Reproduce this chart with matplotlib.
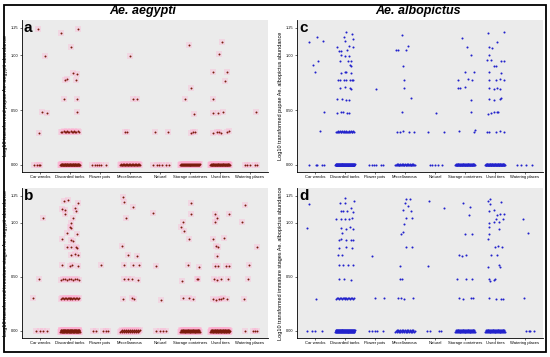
import numpy as np
import matplotlib
matplotlib.use('Agg')
import matplotlib.pyplot as plt
from matplotlib.patches import Rectangle

plt.rcParams['font.family'] = ['Liberation Sans', 'DejaVu Sans']

categories = ['Car wrecks', 'Discarded tanks', 'Flower pots', 'Miscellaneous',
              'Natural', 'Storage containers', 'Used tires', 'Watering places']
y_ticks = [0.0, 0.5, 1.0, 1.25]
y_ticklabels = ['0.00', '0.50', '1.00', '1.25']
dense_levels = [0.0, 0.301, 0.477]

# ---- a: pupae Ae. aegypti (sparse points, x = category position incl. jitter)
a_x = [0.92, 1.17, 1.06, 1.22, 0.97, 0.80, 0.90, 0.97, 1.01,
       1.70, 2.27, 2.04, 2.09, 2.23, 1.83, 1.91, 2.21, 1.79, 2.24, 2.24,
       2.72, 2.82, 2.90, 2.97, 3.03, 3.20,
       4.00, 4.11, 4.24, 3.83, 3.91,
       4.84, 5.28, 4.76, 4.89, 4.98, 5.07, 5.19, 5.30,
       5.96, 6.03, 5.82, 6.14, 6.03, 6.11, 6.16,
       7.07, 6.96, 6.76, 7.23, 7.16, 6.78, 6.78, 6.94, 7.10, 6.78, 6.91, 6.98,
       7.02, 7.23, 7.29,
       8.19, 7.83, 7.91, 8.00, 8.17, 8.24]
a_y = [1.244, 0.99, 0.479, 0.47, 0.293, 0, 0, 0, 0,
       1.204, 1.24, 1.08, 0.838, 0.832, 0.774, 0.78, 0.771, 0.604, 0.604, 0.479,
       0, 0, 0, 0, 0, 0,
       0.997, 0.60, 0.598, 0.296, 0.299,
       0.30, 0.303, 0, 0, 0, 0, 0, 0,
       1.09, 0.70, 0.60, 0.463, 0.293, 0.299, 0.302,
       1.12, 1.01, 0.85, 0.845, 0.765, 0.60, 0.476, 0.47, 0.479, 0.29, 0.296,
       0.296, 0.293, 0.299, 0.305,
       0.479, 0, 0, 0, 0, 0]
# dense rows: counts per category at levels 0, 0.30, 0.48
a_dense = [[0, 80, 0, 40, 0, 60, 70, 0],
           [0, 16, 0, 0, 0, 0, 0, 0],
           [0, 0, 0, 0, 0, 0, 0, 0]]

# ---- b: immature stages Ae. aegypti
b_x = [1.09, 0.96, 0.78, 0.87, 1.00, 1.11, 1.23,
       1.81, 1.94, 1.73, 1.84, 2.17, 2.26, 2.21, 1.83, 2.09, 2.03, 2.00, 2.04,
       1.91, 2.23, 1.72, 2.02, 2.11, 1.89, 2.04, 2.20, 2.24, 2.03, 2.18, 2.26,
       1.73, 1.99, 2.06, 2.27,
       3.03, 2.78, 2.87, 3.11, 3.20, 3.26,
       3.78, 3.81, 4.09, 3.87, 3.72, 3.92, 4.22, 3.80, 4.11, 4.29, 3.81, 3.93,
       4.08, 4.28, 3.76, 4.07, 4.14,
       4.78, 4.88, 5.04, 4.86, 5.00, 5.11, 5.19,
       6.03, 6.03, 5.76, 5.71, 5.79, 5.97, 5.93, 6.30, 5.73, 6.22, 6.27, 5.76,
       5.97, 6.09,
       6.82, 6.90, 6.83, 7.29, 6.78, 7.13, 6.87, 6.92, 6.90, 6.82, 6.92, 7.21,
       7.31, 6.80, 6.89, 7.04, 7.28, 6.78, 6.87, 6.96, 7.03, 7.09, 7.24,
       7.84, 7.74, 8.23, 7.97, 7.94, 7.80, 7.83, 8.10, 8.17, 8.23]
b_y = [1.049, 0.476, 0.302, 0, 0, 0, 0,
       1.204, 1.21, 1.128, 1.119, 1.137, 1.18, 1.113, 1.08, 1.04, 0.997, 0.96,
       0.951, 0.909, 0.896, 0.854, 0.845, 0.832, 0.777, 0.78, 0.777, 0.768,
       0.701, 0.71, 0.707, 0.607, 0.60, 0.61, 0.60,
       0.61, 0, 0, 0, 0, 0,
       1.238, 1.19, 1.149, 1.043, 0.787, 0.701, 0.695, 0.61, 0.61, 0.61, 0.476,
       0.479, 0.479, 0.47, 0.293, 0.305, 0.296,
       1.088, 0.598, 0.29, 0, 0, 0, 0,
       1.183, 1.082, 1.012, 0.96, 0.92, 0.854, 0.613, 0.591, 0.463, 0.482,
       0.476, 0.302, 0.308, 0.296,
       1.082, 1.043, 1.012, 1.082, 0.854, 0.86, 0.787, 0.777, 0.695, 0.598,
       0.598, 0.598, 0.598, 0.485, 0.47, 0.479, 0.479, 0.299, 0.29, 0.293,
       0.299, 0.305, 0.296,
       1.162, 1.003, 0.78, 0.61, 0.476, 0.299, 0, 0, 0, 0]
b_dense = [[0, 100, 0, 30, 0, 70, 80, 0],
           [0, 20, 0, 0, 0, 0, 0, 0],
           [0, 10, 0, 0, 0, 0, 0, 0]]

# ---- c: pupae Ae. albopictus
c_x = [0.80, 1.07, 1.26, 1.11, 0.94, 1.00, 1.30, 1.17, 0.80, 1.03, 1.08, 1.24, 1.30,
       2.04, 2.23, 1.98, 2.26, 2.01, 1.74, 2.12, 2.26, 1.80, 1.88, 2.06, 1.87,
       2.00, 2.12, 1.84, 2.11, 2.19, 2.16, 2.20, 1.86, 1.99, 2.04, 2.19, 1.78,
       1.83, 1.97, 2.03, 2.17, 2.22, 2.27, 1.84, 2.00, 2.16, 2.20, 1.72, 1.91,
       2.02, 2.14, 1.74, 1.88, 1.94, 2.06, 2.12,
       3.02, 2.80, 2.91, 2.98, 3.03, 3.19, 3.28,
       3.89, 3.70, 3.78, 4.10, 4.04, 3.94, 3.98, 3.97, 4.21, 3.91, 3.73, 3.84,
       3.92, 4.13, 4.29,
       5.03, 4.78, 5.29, 4.83, 4.91, 5.00, 5.10, 5.24,
       5.91, 6.08, 6.21, 5.99, 6.29, 5.78, 6.11, 6.24, 5.76, 5.84, 5.99, 6.19,
       6.19, 5.80, 6.29, 6.33,
       6.78, 7.31, 7.06, 6.80, 6.90, 6.81, 6.74, 6.88, 7.19, 7.31, 6.96, 7.04,
       6.80, 7.19, 6.80, 7.02, 7.17, 7.31, 6.81, 6.96, 7.06, 7.16, 6.80, 6.96,
       7.16, 7.21, 6.78, 6.86, 6.97, 7.06, 7.11, 6.74, 6.80, 7.02, 7.16, 7.30,
       7.74, 7.86, 8.02, 8.24]
c_y = [1.121, 1.169, 1.127, 0.946, 0.909, 0.843, 0.486, 0.305, 0, 0, 0, 0, 0,
       1.211, 1.196, 1.166, 1.148, 1.127, 1.079, 1.082, 1.073, 1.042, 1.042,
       1.045, 1.0, 0.997, 0.997, 0.946, 0.946, 0.946, 0.912, 0.90, 0.837, 0.843,
       0.849, 0.84, 0.773, 0.773, 0.773, 0.773, 0.779, 0.773, 0.779, 0.704,
       0.71, 0.701, 0.695, 0.601, 0.598, 0.592, 0.592, 0.474, 0.483, 0.48,
       0.474, 0.477,
       0.689, 0, 0, 0, 0, 0, 0,
       1.181, 1.048, 1.045, 1.088, 1.051, 0.90, 0.779, 0.704, 0.607, 0.483,
       0.296, 0.302, 0.305, 0.296, 0.299,
       0.477, 0.296, 0.302, 0, 0, 0, 0, 0,
       1.157, 1.073, 1.006, 0.843, 0.846, 0.77, 0.785, 0.779, 0.701, 0.701,
       0.71, 0.592, 0.486, 0.308, 0.296, 0.314,
       1.202, 1.208, 1.121, 1.076, 1.07, 1.0, 0.955, 0.955, 0.946, 0.952,
       0.906, 0.906, 0.846, 0.84, 0.773, 0.779, 0.782, 0.773, 0.698, 0.695,
       0.701, 0.692, 0.598, 0.595, 0.598, 0.607, 0.468, 0.477, 0.48, 0.486,
       0.486, 0.302, 0.296, 0.299, 0.308, 0.302,
       0, 0, 0, 0]
c_dense = [[0, 120, 0, 35, 0, 70, 80, 0],
           [0, 25, 0, 0, 0, 0, 0, 0],
           [0, 0, 0, 0, 0, 0, 0, 0]]

# ---- d: immature stages Ae. albopictus
d_x = [0.80, 0.73, 1.03, 0.72, 0.89, 1.00, 1.24,
       2.01, 1.82, 2.01, 2.30, 2.21, 1.87, 1.92, 2.07, 2.27, 1.71, 1.87, 2.01,
       2.12, 2.22, 1.88, 2.03, 2.16, 2.28, 1.91, 1.80, 1.88, 2.02, 2.20, 2.28,
       1.80, 2.03, 2.24, 1.77, 1.91, 1.80, 1.93, 2.10, 2.28, 1.80, 1.98, 2.20,
       2.90, 3.00, 3.29, 2.80, 2.91, 2.99, 3.08, 3.28,
       4.04, 4.17, 4.00, 3.94, 4.21, 4.09, 4.02, 4.22, 3.97, 3.93, 3.86, 4.02,
       4.22, 3.83, 3.83, 3.89, 3.78, 3.87, 3.98, 4.28,
       4.81, 5.29, 4.76, 4.74, 4.82, 5.13, 5.20,
       5.94, 6.17, 6.13, 5.99, 6.22, 5.79, 5.89, 6.02, 5.72, 6.04, 6.24, 5.80,
       5.94, 6.19, 6.27,
       6.78, 6.84, 7.19, 6.83, 6.80, 6.97, 7.07, 7.17, 7.29, 7.02, 7.27, 6.80,
       6.96, 7.13, 6.80, 7.14, 6.80, 6.78, 7.00, 7.11, 7.24, 6.88, 7.08, 6.76,
       7.14, 7.16, 6.80, 6.82, 6.97, 7.01, 6.80, 7.04, 7.19, 7.27,
       7.93, 8.10, 7.96, 8.02, 8.13, 8.17, 8.30]
d_y = [1.173, 0.952, 0.30, 0, 0, 0, 0,
       1.233, 1.182, 1.182, 1.206, 1.136, 1.112, 1.109, 1.106, 1.103, 1.033,
       1.039, 1.039, 1.039, 1.042, 0.948, 0.945, 0.961, 0.945, 0.909, 0.845,
       0.848, 0.842, 0.839, 0.845, 0.77, 0.779, 0.77, 0.706, 0.703, 0.606,
       0.606, 0.606, 0.606, 0.479, 0.479, 0.473,
       0.697, 0.306, 0.303, 0, 0, 0, 0, 0,
       1.221, 1.221, 1.182, 1.115, 1.112, 1.158, 1.048, 1.048, 0.985, 0.915,
       0.894, 0.779, 0.776, 0.60, 0.485, 0.482, 0.302, 0.305, 0.299, 0.302,
       1.206, 1.139, 0.597, 0, 0, 0, 0,
       1.182, 1.145, 1.073, 0.894, 0.90, 0.703, 0.697, 0.706, 0.485, 0.476,
       0.482, 0.309, 0.294, 0.303, 0.309,
       1.206, 1.221, 1.197, 1.17, 1.109, 1.121, 1.07, 1.085, 1.085, 1.036,
       1.039, 1.0, 1.009, 1.009, 0.958, 0.945, 0.90, 0.848, 0.773, 0.782,
       0.773, 0.703, 0.706, 0.594, 0.606, 0.594, 0.479, 0.461, 0.473, 0.476,
       0.306, 0.291, 0.294, 0.294,
       1.039, 0.903, 0.306, 0, 0, 0, 0]
d_dense = [[0, 120, 0, 35, 0, 70, 70, 0],
           [0, 20, 0, 0, 0, 0, 0, 0],
           [0, 0, 0, 0, 0, 0, 0, 0]]

ylabels = ['Log10 transformed pupae Ae. aegypti abundance',
           'Log10 transformed immature stages Ae. aegypti abundance',
           'Log10 transformed pupae Ae. albopictus abundance',
           'Log10 transformed immature stages Ae. albopictus abundance']


def expand_dense(dense):
    # spread the overplotted rows across the jitter width of each category
    xs, ys = [], []
    for iLevel, counts in enumerate(dense):
        for iCat, n in enumerate(counts):
            if n == 0:
                continue
            half = 0.32 if iLevel == 0 else 0.29
            xs += list(iCat + 1 + np.linspace(-half, half, n))
            ys += [dense_levels[iLevel] + 0.005 * ((k % 3) - 1) for k in range(n)]
    return xs, ys


fig = plt.figure(figsize=(5.5, 3.57), dpi=100)
W, H = 550.0, 357.0
boxes = {'a': (22, 20, 268, 172), 'b': (22, 188, 268, 338),
         'c': (297, 20, 543, 172), 'd': (297, 188, 543, 338)}
panel_data = {'a': (a_x, a_y, a_dense), 'b': (b_x, b_y, b_dense),
              'c': (c_x, c_y, c_dense), 'd': (d_x, d_y, d_dense)}

for iPanel, key in enumerate(['a', 'b', 'c', 'd']):
    x0, y0, x1, y1 = boxes[key]
    ax = fig.add_axes([x0 / W, 1 - y1 / H, (x1 - x0) / W, (y1 - y0) / H])
    ax.set_facecolor('#ebebeb')
    px, py, dense = panel_data[key]
    dx, dy = expand_dense(dense)
    xs = list(px) + dx
    ys = list(py) + dy
    if key in ['a', 'b']:
        ax.scatter(xs, ys, s=20, marker='s', color='#ffb0d2', alpha=0.35,
                   linewidths=0, zorder=2)
        ax.scatter(xs, ys, s=2.0, color='#7a1c0c', linewidths=0, zorder=3)
    else:
        ax.scatter(xs, ys, s=2.2, color='#2222cc', linewidths=0, zorder=3)

    ax.set_xlim(0.4, 8.6)
    ax.set_ylim(-0.065, 1.322)
    ax.set_xticks(range(1, 9))
    ax.set_xticklabels(categories, fontsize=3.0)
    ax.set_yticks(y_ticks)
    ax.set_yticklabels(y_ticklabels, fontsize=2.8)
    ax.tick_params(axis='both', length=1.2, width=0.4, pad=1.2, colors='black')
    ax.set_ylabel(ylabels[iPanel], fontsize=4.0, labelpad=2.5)
    for spine in ['top', 'right']:
        ax.spines[spine].set_visible(False)
    for spine in ['left', 'bottom']:
        ax.spines[spine].set_linewidth(0.6)
    ax.text(0.008, 0.995, key, transform=ax.transAxes, fontsize=11,
            fontweight='bold', va='top', ha='left', zorder=5)

# column titles
fig.text(143 / W, 1 - 11 / H, 'Ae. aegypti', fontsize=9, fontweight='bold',
         style='italic', ha='center', va='center')
fig.text(418 / W, 1 - 11 / H, 'Ae. albopictus', fontsize=9, fontweight='bold',
         style='italic', ha='center', va='center')

# outer frame
fig.patches.append(Rectangle((4 / W, 1 - 352 / H), 542 / W, 347 / H,
                             transform=fig.transFigure, fill=False,
                             edgecolor='black', linewidth=1.3))

fig.savefig('out.png', dpi=100)
